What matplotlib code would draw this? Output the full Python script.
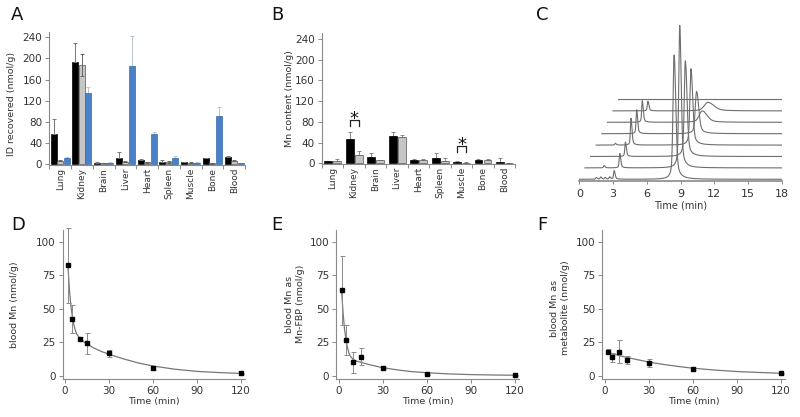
import numpy as np
import matplotlib.pyplot as plt

plt.rcParams['font.family'] = 'DejaVu Sans'

organs = ['Lung', 'Kidney', 'Brain', 'Liver', 'Heart', 'Spleen', 'Muscle', 'Bone', 'Blood']

# panel A - ID recovered (nmol/g), three groups
a_black = [57, 194, 2.5, 11.4, 7.5, 4.4, 3.8, 10.7, 14]
a_black_err = [29, 36, 0.5, 10.6, 1, 2.6, 0.7, 1.3, 2]
a_gray = [6.3, 188, 2, 4.4, 3, 3.8, 2.5, 1.3, 6]
a_gray_err = [0.7, 21, 0.5, 0.6, 0.5, 2.2, 0.5, 0.5, 1]
a_blue = [11, 134, 2.5, 185, 57, 10.7, 2.5, 91, 1.3]
a_blue_err = [3, 11, 0.5, 57, 4, 5.3, 0.5, 17, 0.5]

# panel B - Mn content (nmol/g)
b_black = [4, 46, 12, 53, 7, 11, 3.2, 6.5, 2.6]
b_black_err = [1, 15, 8, 8, 1, 8, 1.8, 1.5, 7.1]
b_gray = [4, 16, 6.5, 50, 7, 5, 1.3, 7, 0.7]
b_gray_err = [4, 7, 0.5, 4, 0.5, 6, 0.3, 1, 0.3]
# significance brackets: organ index, bracket top, leg bottom
b_sig_idx = [1, 6]
b_sig_top = [84, 33.5]
b_sig_leg = [72, 21]

# panel C - stacked chromatograms (local time of peaks, heights in trace units)
c_n = 8
c_step = 0.5
c_early_t = 3.1
c_early_h = [0.75, 1.26, 1.26, 2.35, 2.1, 1.9, 0.85, 0.0]
c_main_t = 8.43
c_main_h = [10.9, 12.5, 8.4, 6.7, 3.7, 1.0, 0.75, 0.0]
c_main_wl = [0.09, 0.08, 0.09, 0.09, 0.11, 0.25, 0.3, 0.1]
c_main_wr = [0.14, 0.12, 0.14, 0.14, 0.18, 0.4, 0.5, 0.1]
c_bump_trace = [0, 0, 0, 0, 1, 3]
c_bump_t = [1.5, 1.9, 2.3, 2.7, 1.7, 1.7]
c_bump_h = [0.15, 0.2, 0.15, 0.2, 0.2, 0.15]

# panels D-F - blood time course
t_pts = [2, 5, 10, 15, 30, 60, 120]
d_val = [82.6, 42.3, 27.4, 24.1, 16.7, 5.5, 1.7]
d_err = [28, 10.5, 1.5, 7.7, 2.8, 1.5, 0.5]
e_val = [63.9, 26.6, 10, 14.2, 5.5, 1.0, 0.3]
e_err = [26, 11, 7.9, 6.2, 0.7, 0.5, 0.3]
f_val = [17.9, 13.7, 17.9, 11.7, 9.7, 5.0, 1.7]
f_err = [2, 3.4, 8.7, 3.1, 3.1, 1, 0.5]

# fitted curves
d_fit_t = [2, 3, 4, 5, 6, 7, 8, 10, 12, 15, 20, 25, 30, 40, 50, 60, 75, 90, 105, 120]
d_fit_v = [82.5, 64, 52, 44, 38, 34, 31, 28, 26, 23.5, 20.5, 18, 16, 12.5, 9.5, 7.2, 4.8, 3.2, 2.3, 1.7]
e_fit_t = [2, 3, 4, 5, 6, 7, 8, 10, 12, 15, 20, 25, 30, 40, 50, 60, 75, 90, 105, 120]
e_fit_v = [64, 47, 35, 27, 21, 17, 14.5, 12, 11, 10, 8.5, 7.2, 6, 4.3, 3, 2.2, 1.3, 0.8, 0.5, 0.3]
f_fit_t = [2, 5, 10, 15, 20, 30, 40, 50, 60, 75, 90, 105, 120]
f_fit_v = [17.5, 16.5, 15.0, 13.7, 12.5, 10.2, 8.4, 6.9, 5.6, 4.2, 3.1, 2.4, 1.8]

W, H = 800, 417
fig = plt.figure(figsize=(8, 4.17), dpi=100)

spine_c = '#8a8a8a'
text_c = '#333333'


def px_axes(l, t, r, b):
    return fig.add_axes([l / W, 1 - b / H, (r - l) / W, (b - t) / H])


def style(ax):
    for s in ['top', 'right']:
        ax.spines[s].set_visible(False)
    for s in ['left', 'bottom']:
        ax.spines[s].set_color(spine_c)
        ax.spines[s].set_linewidth(0.8)
    ax.tick_params(colors=spine_c, labelcolor=text_c, length=3, width=0.7, labelsize=7.5, pad=2)


def organ_axis(ax):
    ax.set_xlim(0, 9)
    ax.set_xticks(np.arange(10))
    ax.set_xticklabels([])
    ax.set_xticks(np.arange(9) + 0.5, minor=True)
    ax.set_xticklabels(organs, minor=True, rotation=90, fontsize=6.5, color=text_c)
    ax.tick_params(axis='x', which='minor', length=0, pad=2)


x = np.arange(9) + 0.5

# A
axA = px_axes(49.3, 32, 245, 165)
style(axA)
organ_axis(axA)
w = 0.28
z = np.zeros(9)
axA.bar(x - 0.3, a_black, w, color='black', edgecolor='black', lw=0.5, zorder=2)
axA.errorbar(x - 0.3, a_black, yerr=[z, a_black_err], fmt='none', ecolor='#777', elinewidth=0.7, capsize=1.5, capthick=0.7, zorder=3)
axA.bar(x, a_gray, w, color='#c6c6c6', edgecolor='#555', lw=0.5, zorder=2)
axA.errorbar(x, a_gray, yerr=a_gray_err, fmt='none', ecolor='#666', elinewidth=0.7, capsize=1.5, capthick=0.7, zorder=3)
axA.bar(x + 0.3, a_blue, w, color='#4a80c6', edgecolor='#3a6aa8', lw=0.5, zorder=2)
axA.errorbar(x + 0.3, a_blue, yerr=[z, a_blue_err], fmt='none', ecolor='#b8c4d0', elinewidth=0.7, capsize=1.5, capthick=0.7, zorder=1)
axA.set_ylim(-2, 250)
axA.set_yticks(np.arange(0, 241, 40))

# B
axB = px_axes(321.7, 33.3, 515, 164)
style(axB)
organ_axis(axB)
w = 0.37
axB.bar(x - 0.2, b_black, w, color='black', edgecolor='black', lw=0.5, zorder=2)
axB.errorbar(x - 0.2, b_black, yerr=[z, b_black_err], fmt='none', ecolor='#888', elinewidth=0.7, capsize=1.5, capthick=0.7, zorder=1)
axB.bar(x + 0.22, b_gray, w, color='#c6c6c6', edgecolor='#555', lw=0.5, zorder=2)
axB.errorbar(x + 0.22, b_gray, yerr=[z, b_gray_err], fmt='none', ecolor='#888', elinewidth=0.7, capsize=1.5, capthick=0.7, zorder=1)
for i, top, leg in zip(b_sig_idx, b_sig_top, b_sig_leg):
    x0, x1 = i + 0.5 - 0.2, i + 0.5 + 0.22
    axB.plot([x0, x0, x1, x1], [leg, top, top, leg], color='#222', lw=0.9)
    axB.text((x0 + x1) / 2, top + 2, '*', ha='center', va='center', fontsize=13, color='#111')
axB.set_ylim(-1.5, 251)
axB.set_yticks(np.arange(0, 241, 40))

# C
axC = px_axes(579.3, 22, 781.7, 181)
for s in ['top', 'right', 'left']:
    axC.spines[s].set_visible(False)
axC.spines['bottom'].set_color(spine_c)
axC.spines['bottom'].set_linewidth(1.2)
axC.tick_params(axis='x', colors=spine_c, labelcolor=text_c, length=2.5, width=0.7, labelsize=8, pad=3)
axC.set_yticks([])


def peak(t, t0, h, wl, wr):
    ww = np.where(t < t0, wl, wr)
    core = np.exp(-0.5 * ((t - t0) / ww) ** 2)
    tail = 1 / (1 + ((t - t0) / (2 * ww)) ** 2)
    return h * (0.75 * core + 0.25 * tail)


for i in range(c_n):
    tl = np.linspace(0, 18 - c_step * i, 3000)
    y = i + peak(tl, c_early_t, c_early_h[i], 0.05, 0.08)
    y = y + peak(tl, c_main_t, c_main_h[i], c_main_wl[i], c_main_wr[i])
    for bt, bx, bh in zip(c_bump_trace, c_bump_t, c_bump_h):
        if bt == i:
            y = y + peak(tl, bx, bh, 0.05, 0.08)
    axC.plot(tl + c_step * i, y, color='#6e6e6e', lw=0.8)
axC.set_xlim(0, 18)
axC.set_ylim(-0.15, 13.8)
axC.set_xticks(np.arange(0, 19, 3))
axC.set_xlabel('Time (min)', fontsize=7, color=text_c, labelpad=1.5)

# D-F
panels = [
    (62.7, d_val, d_err, d_fit_t, d_fit_v),
    (336.3, e_val, e_err, e_fit_t, e_fit_v),
    (602.3, f_val, f_err, f_fit_t, f_fit_v),
]
for left, vals, errs, ft, fv in panels:
    ax = px_axes(left, 230, left + 182.3, 379)
    style(ax)
    ax.plot(ft, fv, color='#777', lw=0.9, zorder=2)
    ax.errorbar(t_pts, vals, yerr=errs, fmt='s', ms=3.2, color='black', ecolor='#8a8a8a',
                elinewidth=0.7, capsize=1.8, capthick=0.7, zorder=3, clip_on=False)
    ax.set_xlim(-1.6, 122.7)
    ax.set_ylim(-2.5, 109)
    ax.set_xticks([0, 30, 60, 90, 120])
    ax.set_yticks([0, 25, 50, 75, 100])
    ax.set_xlabel('Time (min)', fontsize=6.8, color=text_c, labelpad=1)

# y labels
ylabs = [
    ('ID recovered (nmol/g)', 12, 104),
    ('Mn content (nmol/g)', 290, 99),
    ('blood Mn (nmol/g)', 15, 305),
    ('blood Mn as\nMn-FBP (nmol/g)', 295, 304),
    ('blood Mn as\nmetabolite (nmol/g)', 560, 308),
]
for s, lx, ly in ylabs:
    fig.text(lx / W, 1 - ly / H, s, rotation=90, ha='center', va='center', fontsize=6.8,
             color=text_c, linespacing=1.25)

# panel letters
for s, lx, ly in [('A', 11, 6), ('B', 271, 6), ('C', 536, 6), ('D', 11, 216), ('E', 271, 216), ('F', 537, 216)]:
    fig.text(lx / W, 1 - ly / H, s, ha='left', va='top', fontsize=13, color='#111')

fig.savefig('out.png', dpi=100)
